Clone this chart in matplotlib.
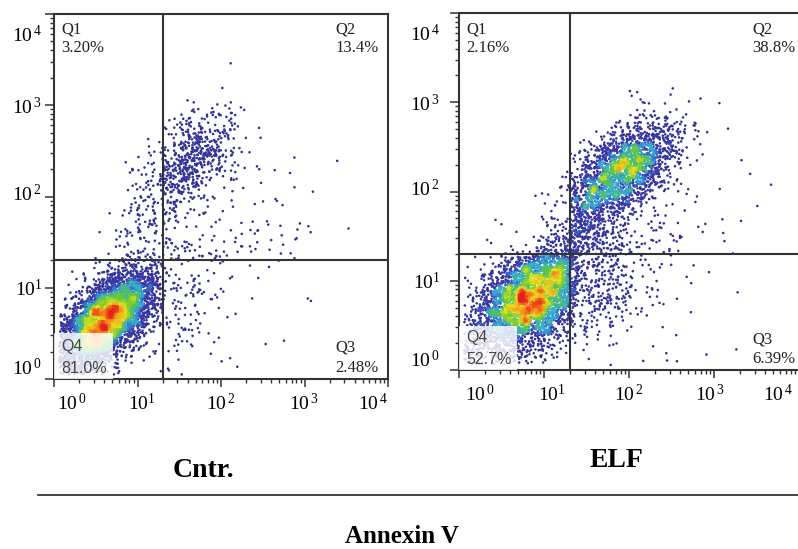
import numpy as np
import matplotlib
matplotlib.use("Agg")
import matplotlib.pyplot as plt
from matplotlib.colors import LinearSegmentedColormap
from matplotlib.patches import Rectangle
from matplotlib.lines import Line2D
from matplotlib.ticker import LogLocator, NullFormatter
from matplotlib.transforms import ScaledTranslation

plt.rcParams["font.family"] = ["Liberation Serif", "DejaVu Serif"]
plt.rcParams["mathtext.fontset"] = "custom"
plt.rcParams["mathtext.rm"] = "Liberation Serif"

# ---- data -------------------------------------------------------------
QUADS = ["Q1", "Q2", "Q3", "Q4"]
GATE = 20.0                     # quadrant gate on both axes
DECADES = [1, 10, 100, 1000, 10000]
TICK_TEXT = [r"$\mathregular{10^{\,0}}$", r"$\mathregular{10^{1}}$",
             r"$\mathregular{10^{\,2}}$", r"$\mathregular{10^{\,3}}$",
             r"$\mathregular{10^{\,4}}$"]

cntr_pct = [3.20, 13.4, 2.48, 81.0]
cntr_pct_text = ["3.20%", "13.4%", "2.48%", "81.0%"]
elf_pct = [2.16, 38.8, 6.39, 52.7]
elf_pct_text = ["2.16%", "38.8%", "6.39%", "52.7%"]
n_events = [5200, 6500]
panel_names = ["Cntr.", "ELF"]

# populations, in log10 units:
# weight, mean x, mean y, sd x, sd y, correlation
cntr_pops = [
    (0.76, 0.62, 0.64, 0.31, 0.29, 0.62),   # live cells
    (0.10, 1.60, 2.38, 0.30, 0.28, 0.55),   # late apoptotic
    (0.04, 1.10, 1.70, 0.24, 0.32, 0.70),   # bridge Q4 -> Q2
    (0.06, 1.55, 0.75, 0.22, 0.32, 0.20),   # early apoptotic
    (0.04, 2.10, 1.20, 0.55, 0.65, 0.10),   # debris / diffuse
]
elf_pops = [
    (0.54, 0.84, 0.80, 0.37, 0.33, 0.50),
    (0.30, 1.92, 2.22, 0.32, 0.28, 0.55),
    (0.06, 1.35, 1.55, 0.26, 0.30, 0.70),
    (0.06, 1.62, 0.88, 0.30, 0.32, 0.20),
    (0.04, 2.10, 1.20, 0.55, 0.65, 0.00),
]

W, H = 798, 549
rng = np.random.default_rng(11)

flow_cmap = LinearSegmentedColormap.from_list("flow", [
    (0.00, "#30308e"), (0.30, "#3838a8"), (0.42, "#30a8dc"),
    (0.56, "#5cc63c"), (0.72, "#e8e21e"), (0.85, "#f48a1a"),
    (1.00, "#e8201c")])


def draw_events(pops, pct, n_total):
    w = np.array([p[0] for p in pops])
    w = w / w.sum()
    pool = n_total * 40
    comp = rng.choice(len(pops), size=pool, p=w)
    lx = np.empty(pool)
    ly = np.empty(pool)
    for i, (_, mx, my, sx, sy, r) in enumerate(pops):
        m = comp == i
        k = m.sum()
        z1 = rng.standard_normal(k)
        z2 = rng.standard_normal(k)
        lx[m] = mx + sx * z1
        ly[m] = my + sy * (r * z1 + np.sqrt(1 - r * r) * z2)
    keep = (lx > 0.06) & (lx < 3.97) & (ly > 0.05) & (ly < 3.97)
    lx, ly = lx[keep], ly[keep]
    g = np.log10(GATE)
    quad = np.where(ly >= g, np.where(lx < g, 0, 1), np.where(lx >= g, 2, 3))
    xs, ys = [], []
    for q in range(4):
        need = int(round(pct[q] / 100 * n_total))
        idx = np.flatnonzero(quad == q)[:need]
        xs.append(lx[idx])
        ys.append(ly[idx])
    return np.concatenate(xs), np.concatenate(ys)


def density(lx, ly, bins=120):
    hist, xe, ye = np.histogram2d(lx, ly, bins=bins, range=[[0, 4], [0, 4]])
    k = np.array([1.0, 2.0, 1.0])
    k /= k.sum()
    hist = np.apply_along_axis(lambda r: np.convolve(r, k, mode="same"), 0, hist)
    hist = np.apply_along_axis(lambda r: np.convolve(r, k, mode="same"), 1, hist)
    ix = np.clip(np.digitize(lx, xe) - 1, 0, bins - 1)
    iy = np.clip(np.digitize(ly, ye) - 1, 0, bins - 1)
    d = hist[ix, iy]
    return np.clip(d / np.percentile(d, 99.7), 0, 1)


def shift(artist, dx, dy):
    artist.set_transform(artist.get_transform()
                         + ScaledTranslation(dx / 100, -dy / 100, fig.dpi_scale_trans))


def px_axes(l, t, r, b):
    return fig.add_axes([l / W, 1 - b / H, (r - l) / W, (b - t) / H])


fig = plt.figure(figsize=(W / 100, H / 100), dpi=100)

panels = [
    dict(box=(54, 14, 388, 379), pops=cntr_pops, pct=cntr_pct, txt=cntr_pct_text,
         n=n_events[0], ypad=2, top=(-19, -38), right_x=-53, q4box=(59, 46),
         xshift=[3, 4, 0, 0, 0]),
    dict(box=(459, 13, 799, 370), pops=elf_pops, pct=elf_pct, txt=elf_pct_text,
         n=n_events[1], ypad=7, top=(-20, -39), right_x=-47, q4box=(58, 44),
         xshift=[6, 8, 0, -4, -6]),
]

for p in panels:
    ax = px_axes(*p["box"])
    ax.set_xscale("log")
    ax.set_yscale("log")
    ax.set_xlim(1, 1e4)
    ax.set_ylim(1, 1e4)

    lx, ly = draw_events(p["pops"], p["pct"], p["n"])
    d = density(lx, ly)
    order = np.argsort(d)
    ax.scatter(10 ** lx[order], 10 ** ly[order], c=d[order], cmap=flow_cmap,
               vmin=0, vmax=1, s=3.4, marker="o", linewidths=0, zorder=2)

    ax.axvline(GATE, color="#333333", lw=1.5, zorder=3)
    ax.axhline(GATE, color="#333333", lw=1.5, zorder=3)

    # pale box behind the Q4 label
    bw, bh = p["q4box"]
    pw = p["box"][2] - p["box"][0]
    ph = p["box"][3] - p["box"][1]
    ax.add_patch(Rectangle((0, 0), bw / pw, bh / ph, transform=ax.transAxes,
                           facecolor="white", edgecolor="none", alpha=0.82, zorder=4))

    for s in ax.spines.values():
        s.set_color("#333333")
        s.set_linewidth(1.5)

    ax.xaxis.set_minor_locator(LogLocator(base=10, subs=np.arange(2, 10), numticks=20))
    ax.yaxis.set_minor_locator(LogLocator(base=10, subs=np.arange(2, 10), numticks=20))
    ax.xaxis.set_minor_formatter(NullFormatter())
    ax.yaxis.set_minor_formatter(NullFormatter())
    ax.set_xticks(DECADES)
    ax.set_xticklabels(TICK_TEXT)
    ax.set_yticks(DECADES)
    ax.set_yticklabels(TICK_TEXT)
    ax.tick_params(axis="x", which="major", direction="out", length=6, width=1.1,
                   color="#333333", labelsize=14, pad=4)
    ax.tick_params(axis="y", which="major", direction="out", length=6.5, width=1.1,
                   color="#333333", labelsize=14, pad=p["ypad"])
    ax.tick_params(which="minor", direction="out", length=3, width=1.0, color="#333333")

    xl = ax.get_xticklabels()
    xl[0].set_ha("left")
    xl[-1].set_ha("right")
    for lab, dx in zip(xl, p["xshift"]):
        shift(lab, dx, 0)
    yl = ax.get_yticklabels()
    shift(yl[0], 0, -12)
    shift(yl[-1], 0, 19)
    shift(yl[2], 0, -4)

    # quadrant labels
    t1, t2 = p["top"]
    kw = dict(xycoords="axes fraction", textcoords="offset pixels", fontsize=12,
              color="#222222", va="baseline", zorder=5)
    ax.annotate(QUADS[0], (0, 1), xytext=(7, t1), **kw)
    ax.annotate(p["txt"][0], (0, 1), xytext=(7, t2), **kw)
    ax.annotate(QUADS[1], (1, 1), xytext=(p["right_x"], t1), **kw)
    ax.annotate(p["txt"][1], (1, 1), xytext=(p["right_x"], t2), **kw)
    ax.annotate(QUADS[2], (1, 0), xytext=(p["right_x"], 27), **kw)
    ax.annotate(p["txt"][2], (1, 0), xytext=(p["right_x"], 7), **kw)
    kw4 = dict(kw, color="#454545", family="Liberation Sans", fontsize=11.5)
    ax.annotate(QUADS[3], (0, 0), xytext=(7, 28), **kw4)
    ax.annotate(p["txt"][3], (0, 0), xytext=(7, 6), **kw4)

    if p is panels[1]:
        ax.spines["right"].set_visible(False)

fig.text(203 / W, 1 - 477 / H, panel_names[0], ha="center", va="baseline",
         fontsize=20, fontweight="bold")
fig.text(617 / W, 1 - 467 / H, panel_names[1], ha="center", va="baseline",
         fontsize=20, fontweight="bold")
fig.add_artist(Line2D([38 / W, 1], [1 - 495 / H, 1 - 495 / H], color="#222222", lw=1.2))
fig.text(402 / W, 1 - 548 / H, "Annexin V", ha="center", va="bottom",
         fontsize=18, fontweight="bold")

fig.savefig("out.png", dpi=100)
